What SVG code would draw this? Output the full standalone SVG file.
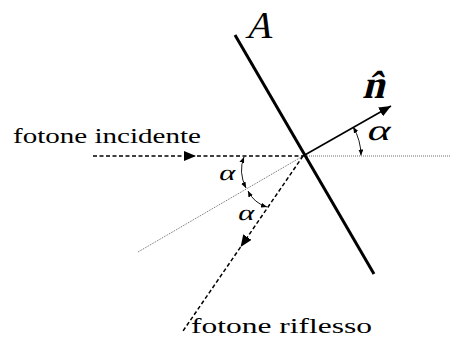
<svg xmlns="http://www.w3.org/2000/svg" width="451" height="341" viewBox="0 0 451 341">
<style>
.dash{fill:none;stroke:#000;stroke-width:1.5;stroke-dasharray:4,2.5}
.dot{fill:none;stroke:#444;stroke-width:0.8;stroke-dasharray:1,1}
.arc{fill:none;stroke:#000;stroke-width:0.9}
</style>
<defs>
<marker id="tri" markerUnits="userSpaceOnUse" viewBox="0 0 12 10" refX="12" refY="5" markerWidth="12" markerHeight="10" orient="auto"><path d="M0,0 L12,5 L0,10 z" fill="#000"/></marker>
<marker id="tip" markerUnits="userSpaceOnUse" viewBox="0 0 6 5" refX="6" refY="2.5" markerWidth="6" markerHeight="5" orient="auto-start-reverse"><path d="M0,0 L6,2.5 L0,5 z" fill="#000"/></marker>
</defs>
<rect width="451" height="341" fill="#fff"/>
<g id="connectors">
<path class="dot" d="M303,156 H451"/>
<path class="dot" d="M303,156 L138,252"/>
<path class="dash" d="M93,156 L196,156 L303,156" marker-mid="url(#tri)"/>
<path class="dash" d="M303,156 L240.6,247 L183,331" marker-mid="url(#tri)"/>
<path d="M303,156 L391,106" stroke="#000" stroke-width="1.6" fill="none" marker-end="url(#tri)"/>
<path class="arc" d="M244,157 Q238,172 246,188" marker-start="url(#tip)" marker-end="url(#tip)"/>
<path class="arc" d="M248,191 Q254,203 267,207" marker-start="url(#tip)" marker-end="url(#tip)"/>
<path class="arc" d="M353.2,127 A58,58 0 0 1 361,155.5" marker-start="url(#tip)" marker-end="url(#tip)"/>
</g>
<g id="mirror">
<line x1="235" y1="35" x2="374" y2="274" stroke="#000" stroke-width="3"/>
<text transform="translate(245,38) skewX(-14)" x="0" y="0" font-size="38" font-family="Liberation Serif">A</text>
</g>
<g id="normal">
<text transform="translate(362,98) skewX(-14)" x="0" y="0" font-size="40" font-weight="bold" font-family="Liberation Serif">n̂</text>
</g>
<g id="labels">
<text x="13" y="143" font-size="22" textLength="188" lengthAdjust="spacingAndGlyphs" font-family="Liberation Serif">fotone incidente</text>
<text x="191" y="333" font-size="22" textLength="181" lengthAdjust="spacingAndGlyphs" font-family="Liberation Serif">fotone riflesso</text>
<text transform="translate(218,180) skewX(-14)" x="0" y="0" font-size="22" textLength="16" lengthAdjust="spacingAndGlyphs" font-family="Liberation Serif">α</text>
<text transform="translate(237,220) skewX(-14)" x="0" y="0" font-size="22" textLength="16" lengthAdjust="spacingAndGlyphs" font-family="Liberation Serif">α</text>
<text transform="translate(366,140) skewX(-14)" x="0" y="0" font-size="29" textLength="23" lengthAdjust="spacingAndGlyphs" font-family="Liberation Serif">α</text>
</g>
</svg>
